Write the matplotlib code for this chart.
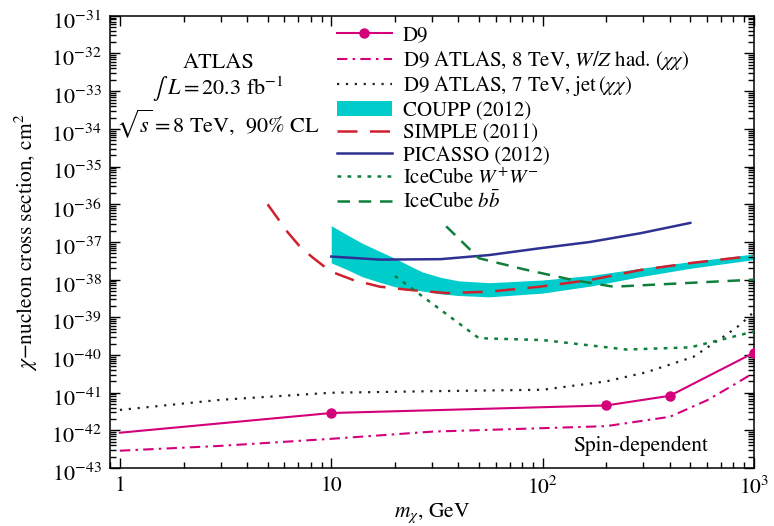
import numpy as np
import matplotlib
matplotlib.use("Agg")
import matplotlib.pyplot as plt
from matplotlib.ticker import LogLocator, FixedLocator, FixedFormatter, NullFormatter
from matplotlib.transforms import ScaledTranslation

plt.rcParams["font.family"] = ["STIXGeneral", "DejaVu Serif"]
plt.rcParams["mathtext.fontset"] = "stix"

# D9 theory curve (markers at 10, 200, 400, 1000 GeV)
d9_m = [1, 10, 200, 400, 1000]
d9_sig = [8.7e-43, 2.9e-42, 4.6e-42, 8.3e-42, 1.15e-40]

# D9 ATLAS 8 TeV W/Z hadronic
atlas8_m = [1, 3, 10, 30, 100, 200, 400, 600, 800, 1000]
atlas8_sig = [2.9e-43, 3.9e-43, 6.0e-43, 9.3e-43, 1.15e-42, 1.3e-42,
              2.3e-42, 6.3e-42, 1.6e-41, 3.4e-41]

# D9 ATLAS 7 TeV jet
atlas7_m = [1, 3, 10, 30, 100, 200, 310, 516, 714, 860, 1000]
atlas7_sig = [3.5e-42, 6.5e-42, 1.0e-41, 1.1e-41, 1.2e-41, 2.0e-41,
              3.5e-41, 8.9e-41, 3.0e-40, 6.3e-40, 1.4e-39]

# COUPP (2012) band
coupp_m = [10, 12, 14, 17, 20, 24, 27, 33, 40, 56, 100, 170, 290, 500, 1000]
coupp_hi = [2.7e-37, 1.5e-37, 9.3e-38, 5.6e-38, 3.7e-38, 2.2e-38, 1.6e-38,
            1.15e-38, 9.3e-39, 8.3e-39, 9.8e-39, 1.3e-38, 2.0e-38, 3.0e-38,
            4.8e-38]
coupp_lo = [2.8e-38, 1.8e-38, 1.2e-38, 8.5e-39, 6.5e-39, 5.5e-39, 5.0e-39,
            4.2e-39, 3.8e-39, 3.5e-39, 4.4e-39, 6.8e-39, 1.2e-38, 2.0e-38,
            3.4e-38]

# SIMPLE (2011)
simple_m = [5.0, 6.2, 7.1, 8.2, 9.4, 10.4, 12.7, 17, 23, 35, 56, 97,
            168, 290, 500, 1000]
simple_sig = [1.0e-36, 1.86e-37, 7.6e-38, 3.8e-38, 2.1e-38, 1.5e-38,
              9.8e-39, 6.5e-39, 5.4e-39, 4.4e-39, 4.8e-39, 6.5e-39,
              9.8e-39, 1.8e-38, 2.75e-38, 4.3e-38]

# PICASSO (2012)
picasso_m = [10, 17, 33, 56, 97, 168, 290, 500]
picasso_sig = [4.1e-38, 3.4e-38, 3.5e-38, 4.5e-38, 6.8e-38, 1.0e-37,
               1.7e-37, 3.2e-37]

# IceCube W+W-
icww_m = [20, 50, 100, 250, 500, 1000]
icww_sig = [1.26e-38, 2.8e-40, 2.5e-40, 1.4e-40, 1.6e-40, 4.2e-40]

# IceCube b bbar
icbb_m = [35, 50, 81, 139, 217, 415, 1000]
icbb_sig = [2.6e-37, 3.7e-38, 1.9e-38, 9.8e-39, 6.5e-39, 7.8e-39, 1.0e-38]

x_ticks = [1, 10, 100, 1000]
x_ticklabels = ["1", "10", r"$10^2$", r"$10^3$"]
y_exponents = list(range(-43, -30))

magenta = "#d4007a"
green = "#0f7f3c"

fig = plt.figure(figsize=(7.74, 5.26), dpi=100)
ax = fig.add_axes([0.142, 0.110, 0.832, 0.860])

ax.fill_between(coupp_m, coupp_lo, coupp_hi, color="#00cccc", lw=0,
                label="COUPP (2012)", zorder=1)
ax.plot(d9_m, d9_sig, color=magenta, lw=1.5, marker="o", ms=6.5,
        markevery=[1, 2, 3, 4], label="D9", zorder=3)
ax.plot(atlas8_m, atlas8_sig, color=magenta, lw=1.5,
        ls=(0, (5, 2.5, 1.2, 2.5)),
        label=r"D9 ATLAS, 8 TeV, $W/Z$ had. $(\chi\chi)$", zorder=3)
ax.plot(atlas7_m, atlas7_sig, color="#222222", lw=1.6, ls=(0, (1, 3)),
        label=r"D9 ATLAS, 7 TeV, jet$\,(\chi\chi)$", zorder=3)
ax.plot(simple_m, simple_sig, color="#d0202e", lw=1.8, ls=(0, (8, 5)),
        label="SIMPLE (2011)", zorder=3)
ax.plot(picasso_m, picasso_sig, color="#2e3192", lw=1.8,
        label="PICASSO (2012)", zorder=3)
ax.plot(icww_m, icww_sig, color=green, lw=1.8, ls=(0, (1.5, 2.5)),
        label=r"IceCube $W^{+}W^{-}$", zorder=3)
ax.plot(icbb_m, icbb_sig, color=green, lw=1.8, ls=(0, (5, 3.5)),
        label=r"IceCube $b\bar{b}$", zorder=3)

ax.set_xscale("log")
ax.set_yscale("log")
ax.set_xlim(0.897, 1000)
ax.set_ylim(1e-43, 1e-31)

ax.xaxis.set_major_locator(FixedLocator(x_ticks))
ax.xaxis.set_major_formatter(FixedFormatter(x_ticklabels))
ax.xaxis.set_minor_locator(LogLocator(base=10, subs=np.arange(2, 10), numticks=20))
ax.xaxis.set_minor_formatter(NullFormatter())
ax.yaxis.set_major_locator(FixedLocator([10.0 ** e for e in y_exponents]))
ax.yaxis.set_major_formatter(
    FixedFormatter([r"$10^{%d}$" % e for e in y_exponents]))
ax.yaxis.set_minor_locator(LogLocator(base=10, subs=np.arange(2, 10), numticks=200))
ax.yaxis.set_minor_formatter(NullFormatter())

ax.tick_params(which="both", direction="in", top=True, right=True,
               labelsize=15.5, width=1.0)
ax.tick_params(axis="y", labelsize=16)
ax.tick_params(which="major", length=7, pad=6)
ax.tick_params(which="minor", length=4)
for s in ax.spines.values():
    s.set_linewidth(1.1)

ax.set_xlabel(r"$m_\chi$, GeV", fontsize=15.5, labelpad=2)
ax.set_ylabel("$\\chi$\u2212nucleon cross section, cm$^2$", fontsize=15.5,
              labelpad=8)

ax.text(0.168, 0.895, "ATLAS", transform=ax.transAxes, ha="center",
        va="center", fontsize=16)
ax.text(0.168, 0.838, r"$\int\ L = 20.3$ fb$^{-1}$",
        transform=ax.transAxes, ha="center", va="center", fontsize=16)
ax.text(0.168, 0.762, r"$\sqrt{s} = 8$ TeV,  90% CL",
        transform=ax.transAxes, ha="center", va="center", fontsize=16)
ax.text(0.929, 0.05, "Spin-dependent", transform=ax.transAxes,
        ha="right", va="center", fontsize=15.5)

handles, labels = ax.get_legend_handles_labels()
order = ["D9", r"D9 ATLAS, 8 TeV, $W/Z$ had. $(\chi\chi)$",
         r"D9 ATLAS, 7 TeV, jet$\,(\chi\chi)$", "COUPP (2012)",
         "SIMPLE (2011)", "PICASSO (2012)", r"IceCube $W^{+}W^{-}$",
         r"IceCube $b\bar{b}$"]
hmap = dict(zip(labels, handles))
ax.legend([hmap[k] for k in order], order, loc="upper left",
          bbox_to_anchor=(0.352, 0.978), frameon=False, fontsize=15,
          borderpad=0, borderaxespad=0, handlelength=2.64,
          handletextpad=0.53, labelspacing=0.12, numpoints=1)

# nudge y tick labels down a little, as in the original
fig.canvas.draw()
shift = ScaledTranslation(0, -3 / 72, fig.dpi_scale_trans)
for lbl in ax.get_yticklabels():
    lbl.set_transform(lbl.get_transform() + shift)

fig.savefig("out.png", dpi=100)
